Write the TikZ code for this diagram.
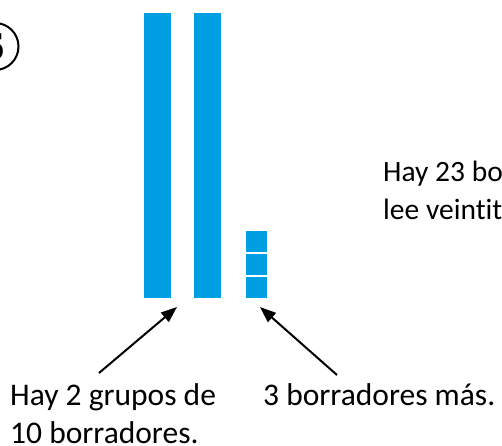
\documentclass[tikz,border=0pt]{standalone}
\usepackage{fontspec}
\setmainfont[Ligatures=CommonOff]{Carlito}
\newfontfamily\numfont{Liberation Serif}
\usepackage{tikz}
\usetikzlibrary{arrows.meta, positioning}
\definecolor{tenblue}{RGB}{0, 159, 227}

\begin{document}
\begin{tikzpicture}[x=1pt, y=-1pt,
  every node/.style={inner sep=0pt},
  bar/.style={fill=tenblue, minimum width=27pt, minimum height=285pt},
  cube/.style={fill=tenblue, minimum size=21pt},
  pointer/.style={-{Triangle[length=16pt, width=12pt]}, line width=2pt}]
  \useasboundingbox (0,0) rectangle (502,445);

  % ---------- number ----------
  \node[circle, draw, line width=2pt, minimum size=47pt,
        font=\numfont\bfseries\fontsize{40}{40}\selectfont] (num) at (-5,46.5) {6};

  % ---------- tens and ones ----------
  \foreach \x/\n in {157.5/1, 207.5/2}{
    \node[bar] (bar\n) at (\x,155.5) {};
  }
  \foreach \y/\n in {241/1, 264/2, 287.5/3}{
    \node[cube] (cube\n) at (256,\y) {};
  }

  % ---------- texts ----------
  \node[anchor=base west, align=left, font=\fontsize{29.5}{38}\selectfont]
    (total) at (383,219) {Hay 23 borradores. Se\\lee veintitrés.};
  \node[anchor=base west, align=left, font=\fontsize{31.5}{38}\selectfont]
    (groups) at (10,443) {Hay 2 grupos de\\10 borradores.};
  \node[anchor=base west, font=\fontsize{31.5}{38}\selectfont]
    (more) at (263,405) {3 borradores más.};

  % ---------- pointers ----------
  \coordinate (groupstail) at (99,373);
  \coordinate (groupstip) at (177,307);
  \coordinate (moretail) at (337,375);
  \coordinate (moretip) at (260,307);
  \draw[pointer] (groupstail) -- (groupstip);
  \draw[pointer] (moretail) -- (moretip);
\end{tikzpicture}
\end{document}
